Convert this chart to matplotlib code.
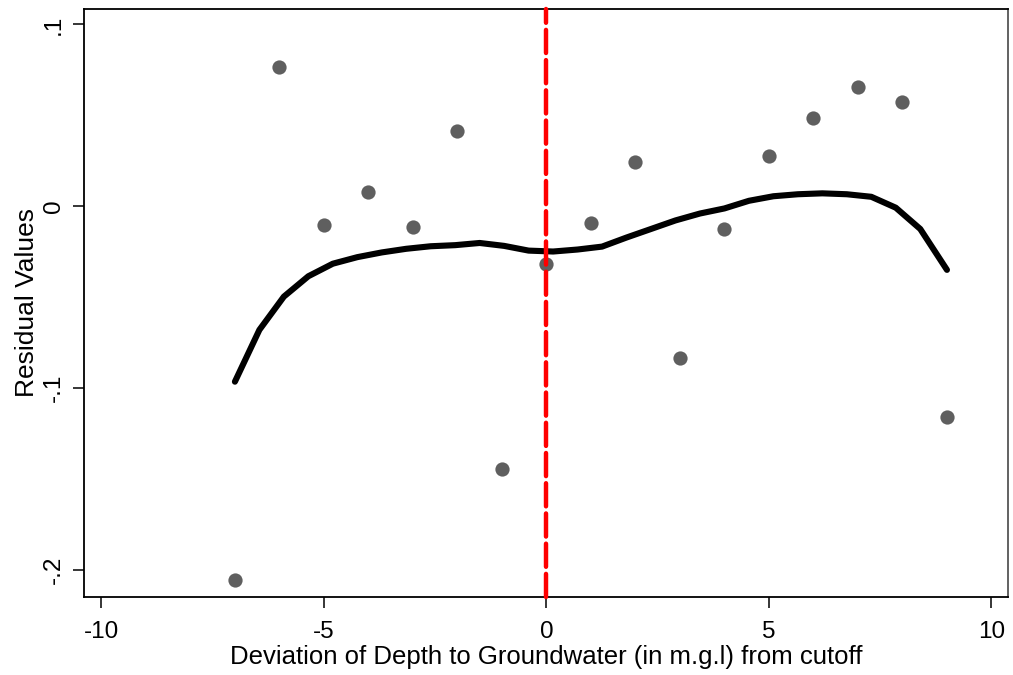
import numpy as np
import matplotlib.pyplot as plt

plt.rcParams['font.family'] = ['Liberation Sans', 'DejaVu Sans']

# binned residuals by distance from the cutoff
dev_bins = [-7, -6, -5, -4, -3, -2, -1, 0, 1, 2, 3, 4, 5, 6, 7, 8, 9]
resid_means = [-0.2057, 0.0767, -0.0104, 0.0081, -0.0116, 0.0414, -0.1443,
               -0.0316, -0.0093, 0.0242, -0.0834, -0.0124, 0.0276, 0.0486,
               0.0657, 0.0574, -0.1157]

# smoothed fit
fit_x = [-7.0, -6.45, -5.9, -5.35, -4.8, -4.25, -3.7, -3.15, -2.6, -2.05,
         -1.5, -0.95, -0.4, 0.15, 0.7, 1.25, 1.8, 2.35, 2.9, 3.45,
         4.0, 4.55, 5.1, 5.65, 6.2, 6.75, 7.3, 7.85, 8.4, 9.0]
fit_y = [-0.0965, -0.068, -0.0497, -0.0385, -0.0316, -0.028, -0.0254,
         -0.0234, -0.022, -0.0214, -0.0202, -0.0218, -0.0244, -0.0249,
         -0.0238, -0.0222, -0.0172, -0.0125, -0.0078, -0.004, -0.0012,
         0.003, 0.0055, 0.0066, 0.0071, 0.0066, 0.0052, -0.0008, -0.0125,
         -0.035]

cutoff = 0
x_ticks = [-10, -5, 0, 5, 10]
y_ticks = [-0.2, -0.1, 0, 0.1]
y_ticklabels = ['-.2', '-.1', '0', '.1']

fig = plt.figure(figsize=(10.13, 6.75), dpi=100)
ax = fig.add_axes([0.0834, 0.1156, 0.9116, 0.8711])

ax.scatter(dev_bins, resid_means, s=105, color='#5f5f5f', zorder=3,
           linewidths=0)
ax.plot(fit_x, fit_y, color='black', lw=4.4, solid_capstyle='round',
        zorder=2)
ax.axvline(cutoff, color='red', lw=3.2, linestyle=(0, (5.2, 1.6)),
           dash_capstyle='round', zorder=4, clip_on=False)

ax.set_xlim(-10.38, 10.37)
ax.set_ylim(-0.2149, 0.1085)
ax.set_xticks(x_ticks)
ax.set_xticklabels([str(t) for t in x_ticks])
ax.set_yticks(y_ticks)
ax.set_yticklabels(y_ticklabels, rotation=90, va='center')
ax.tick_params(axis='both', direction='out', length=8, width=1.1,
               labelsize=17.5, colors='black')
ax.tick_params(axis='y', pad=6)
ax.tick_params(axis='x', pad=9)

for side in ['left', 'bottom', 'top', 'right']:
    ax.spines[side].set_linewidth(1.3)
ax.spines['right'].set_color('#555555')

ax.set_xlabel('Deviation of Depth to Groundwater (in m.g.l) from cutoff',
              fontsize=18.5, labelpad=2)
ax.set_ylabel('Residual Values', fontsize=19, labelpad=3)

fig.savefig('out.png', dpi=100)
